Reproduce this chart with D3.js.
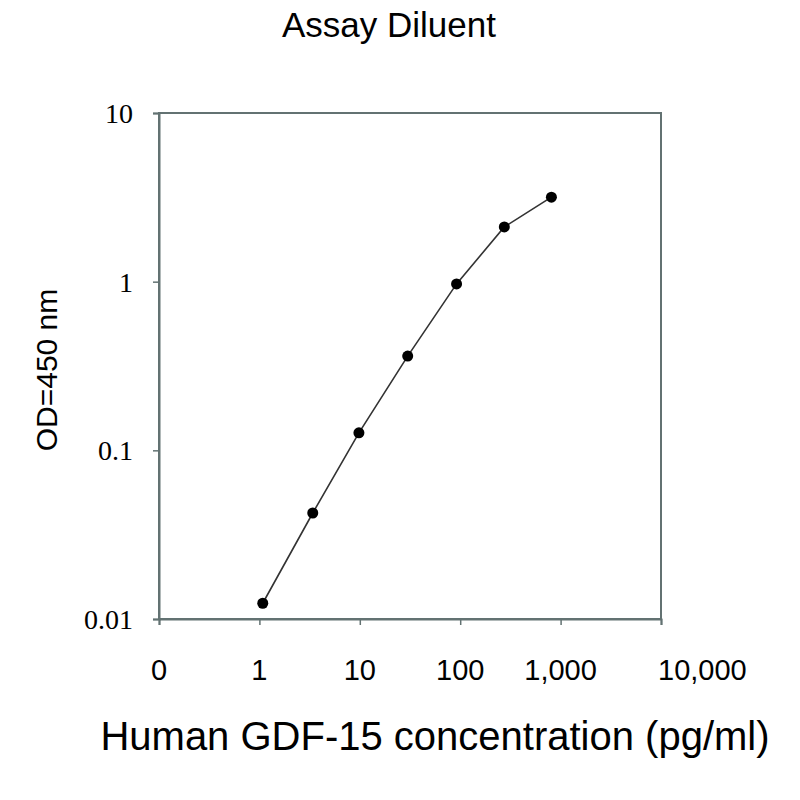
<!DOCTYPE html>
<html>
<head>
<meta charset="utf-8">
<script src="https://cdn.jsdelivr.net/npm/d3@7"></script>
<style>
  body { margin: 0; background: #fff; }
</style>
</head>
<body>
<div id="chart"></div>
<script>
// standard curve
var concentration = [1.08, 3.4, 9.8, 30, 92, 275, 810];
var od450 = [0.0124, 0.0425, 0.127, 0.362, 0.97, 2.11, 3.17];
var xTicks = [0.1, 1, 10, 100, 1000, 10000];
var xTickLabels = ['0', '1', '10', '100', '1,000', '10,000'];
var yTicks = [0.01, 0.1, 1, 10];
var yTickLabels = ['0.01', '0.1', '1', '10'];

var W = 800, H = 800;
var plotL = 159, plotR = 661, plotT = 113, plotB = 619;
var axisColor = '#637272';

var svg = d3.select('#chart').append('svg')
  .attr('width', W).attr('height', H);

var x = d3.scaleLog().domain([0.1, 10000]).range([plotL, plotR]);
var y = d3.scaleLog().domain([0.01, 10]).range([plotB, plotT]);

// frame
svg.append('rect')
  .attr('x', plotL).attr('y', plotT)
  .attr('width', plotR - plotL).attr('height', plotB - plotT)
  .style('fill', 'none').style('stroke', axisColor).style('stroke-width', 2);

// x axis
var xAxis = svg.append('g')
  .attr('transform', 'translate(0,' + plotB + ')')
  .call(d3.axisBottom(x).tickValues(xTicks).tickSize(6).tickFormat(''));
xAxis.select('.domain').style('stroke', axisColor).style('stroke-width', 2);
xAxis.selectAll('.tick line').style('stroke', axisColor).style('stroke-width', 1.5);

svg.selectAll('.xlab')
  .data(xTicks)
  .enter()
  .append('text')
  .classed('xlab', true)
  .attr('x', function(d){return x(d);})
  .attr('y', 680)
  .attr('text-anchor', function(d, i){return i == xTicks.length - 1 ? 'start' : 'middle';})
  .attr('dx', function(d, i){return i == xTicks.length - 1 ? -3 : 0;})
  .style('font-family', 'Liberation Sans, Arial, sans-serif').style('font-size', '29px')
  .text(function(d, i){return xTickLabels[i];});

// y axis
var yAxis = svg.append('g')
  .attr('transform', 'translate(' + plotL + ',0)')
  .call(d3.axisLeft(y).tickValues(yTicks).tickSize(6).tickFormat(''));
yAxis.select('.domain').style('stroke', axisColor).style('stroke-width', 2);
yAxis.selectAll('.tick line').style('stroke', axisColor).style('stroke-width', 1.5);

svg.selectAll('.ylab')
  .data(yTicks)
  .enter()
  .append('text')
  .classed('ylab', true)
  .attr('x', 133)
  .attr('y', function(d){return y(d) + 10;})
  .attr('text-anchor', 'end')
  .style('font-family', 'Liberation Serif, Times New Roman, serif').style('font-size', '28px')
  .text(function(d, i){return yTickLabels[i];});

// curve, straight segments between points
var pts = concentration.map(function(c, i){return {c : c, od : od450[i]};});

svg.append('path')
  .datum(pts)
  .attr('d', d3.line()
    .x(function(d){return x(d.c);})
    .y(function(d){return y(d.od);}))
  .style('fill', 'none').style('stroke', '#333').style('stroke-width', 1.6);

svg.selectAll('.pt')
  .data(pts)
  .enter()
  .append('circle')
  .classed('pt', true)
  .attr('cx', function(d){return x(d.c);})
  .attr('cy', function(d){return y(d.od);})
  .attr('r', 5.5)
  .style('fill', '#000');

// titles
svg.append('text')
  .attr('x', 389).attr('y', 37)
  .attr('text-anchor', 'middle')
  .style('font-family', 'Liberation Sans, Arial, sans-serif').style('font-size', '35px')
  .text('Assay Diluent');

svg.append('text')
  .attr('transform', 'translate(57,370) rotate(-90)')
  .attr('text-anchor', 'middle')
  .style('font-family', 'Liberation Sans, Arial, sans-serif').style('font-size', '30px')
  .text('OD=450 nm');

svg.append('text')
  .attr('x', 435).attr('y', 750)
  .attr('text-anchor', 'middle')
  .style('font-family', 'Liberation Sans, Arial, sans-serif').style('font-size', '40px')
  .text('Human GDF-15 concentration (pg/ml)');
</script>
</body>
</html>
